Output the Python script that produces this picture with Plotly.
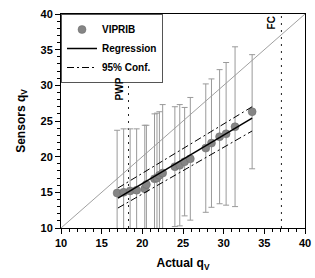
import plotly.graph_objects as go

# Data
actual = [16.9, 17.7, 18.5, 19.3, 20.3, 20.5, 21.5, 21.8, 22.1, 22.5,
          24.0, 24.6, 25.2, 25.9, 27.8, 28.5, 29.5, 30.3, 31.4, 33.5]
sensor = [14.9, 15.0, 15.2, 15.3, 15.5, 16.1, 16.9, 17.0, 17.4, 17.7,
          18.6, 18.8, 19.3, 19.7, 21.2, 21.9, 22.8, 23.2, 24.2, 26.3]
sensor_err = [8.8, 8.9, 8.7, 8.6, 8.9, 8.3, 9.1, 9.1, 8.9, 9.6,
              8.4, 8.5, 7.6, 8.6, 9.0, 9.0, 9.4, 10.0, 11.2, 8.0]

reg_x = [17.0, 33.5]
reg_y = [14.2, 25.4]
conf_upper_y = [15.6, 27.0]
conf_lower_y = [12.8, 23.6]

one_to_one = [10, 40]
pwp_x = 18.3
pwp_top = 33.0
fc_x = 37.1

x_ticks = [10, 15, 20, 25, 30, 35, 40]
y_ticks = [10, 15, 20, 25, 30, 35, 40]

FONT = "Liberation Sans"

fig = go.Figure()

# 1:1 line
fig.add_trace(go.Scatter(x=one_to_one, y=one_to_one, mode="lines",
                         line=dict(color="#a0a0a0", width=1),
                         showlegend=False, hoverinfo="skip"))

# PWP and FC lines
fig.add_trace(go.Scatter(x=[pwp_x, pwp_x], y=[10, pwp_top], mode="lines",
                         line=dict(color="#222222", width=1, dash="2px,5px"),
                         showlegend=False, hoverinfo="skip"))
fig.add_trace(go.Scatter(x=[fc_x, fc_x], y=[10, 40], mode="lines",
                         line=dict(color="#222222", width=1, dash="2px,5px"),
                         showlegend=False, hoverinfo="skip"))

# Points with error bars
fig.add_trace(go.Scatter(x=actual, y=sensor, mode="markers", name="VIPRIB",
                         marker=dict(color="#858585", size=8,
                                     line=dict(color="#6a6a6a", width=0.5)),
                         error_y=dict(type="data", array=sensor_err, visible=True,
                                      color="#9a9a9a", thickness=1, width=3)))

# Regression
fig.add_trace(go.Scatter(x=reg_x, y=reg_y, mode="lines", name="Regression",
                         line=dict(color="black", width=1.5)))
fig.add_trace(go.Scatter(x=reg_x, y=conf_upper_y, mode="lines", name="95% Conf.",
                         line=dict(color="black", width=1, dash="7px,3px,2px,3px")))
fig.add_trace(go.Scatter(x=reg_x, y=conf_lower_y, mode="lines", showlegend=False,
                         line=dict(color="black", width=1, dash="7px,3px,2px,3px")))

axis_common = dict(
    range=[10, 40], showgrid=False, zeroline=False, automargin=False,
    showline=True, linecolor="black", linewidth=1, mirror=True,
    ticks="outside", ticklen=5, tickcolor="black", tickwidth=1,
    tickfont=dict(family=FONT, size=11, color="black", weight="bold"),
    minor=dict(ticks="outside", ticklen=3, dtick=1, tickcolor="black", tickwidth=1),
    tickmode="array",
)

fig.update_xaxes(**axis_common, tickvals=x_ticks, ticktext=[str(v) for v in x_ticks],
                 title=dict(text="Actual q<sub>V</sub>", standoff=10,
                            font=dict(family=FONT, size=12, color="black", weight="bold")))
fig.update_yaxes(**axis_common, tickvals=y_ticks, ticktext=[str(v) for v in y_ticks],
                 title=dict(text="Sensors q<sub>V</sub>", standoff=12,
                            font=dict(family=FONT, size=12, color="black", weight="bold")))

fig.add_annotation(x=pwp_x, y=pwp_top, xref="x", yref="y", text="PWP", textangle=-90,
                   showarrow=False, xanchor="right", yanchor="top", xshift=-2, yshift=-12,
                   font=dict(family=FONT, size=10, color="black", weight="bold"))
fig.add_annotation(x=fc_x, y=40, xref="x", yref="y", text="FC", textangle=-90,
                   showarrow=False, xanchor="right", yanchor="top", xshift=-2, yshift=0,
                   font=dict(family=FONT, size=10, color="black", weight="bold"))

fig.update_layout(
    width=315, height=278,
    margin=dict(l=61, r=10, t=14, b=50),
    paper_bgcolor="white", plot_bgcolor="white",
    legend=dict(x=0, y=1, xanchor="left", yanchor="top",
                bgcolor="white", bordercolor="#555555", borderwidth=1,
                font=dict(family=FONT, size=10, color="black", weight="bold"),
                itemwidth=30, tracegroupgap=0),
)

# remove the default page margin so the figure sits at the window's corner
fig.write_html("out.html",
               config={"displayModeBar": False},
               post_script="document.body.style.margin='0px';"
                           "document.body.style.overflow='hidden';")
